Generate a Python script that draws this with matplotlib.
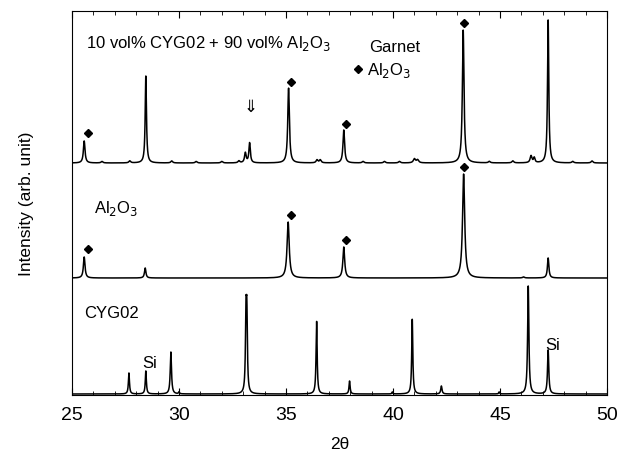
import numpy as np
import matplotlib
matplotlib.use('Agg')
import matplotlib.pyplot as plt

plt.rcParams['font.family'] = ['Liberation Sans', 'DejaVu Sans']

# peak lists: position (2theta), height, FWHM
mix_pos = [25.57, 26.40, 27.70, 28.45, 29.66, 30.80, 32.00, 32.80, 33.10, 33.30, 35.12, 36.45, 36.60,
           37.70, 38.60, 39.60, 40.30, 41.00, 41.15, 43.28, 44.50, 45.60, 46.45, 46.60, 47.25, 48.40, 49.30]
mix_h   = [22, 1.5, 2, 87, 2, 1.5, 1.5, 2, 10, 20, 75, 3, 3,
           33, 1.5, 1.5, 1.5, 4, 3, 133, 1.5, 2, 7, 5, 143, 1.5, 2]
mix_w   = [0.09, 0.10, 0.10, 0.07, 0.10, 0.10, 0.10, 0.10, 0.09, 0.08, 0.09, 0.10, 0.10,
           0.09, 0.10, 0.10, 0.10, 0.12, 0.12, 0.09, 0.10, 0.10, 0.10, 0.08, 0.07, 0.10, 0.10]

alo_pos = [25.57, 28.42, 35.10, 37.70, 43.30, 46.10, 47.25]
alo_h   = [21, 10, 56, 31, 104, 1, 20]
alo_w   = [0.09, 0.08, 0.12, 0.10, 0.12, 0.10, 0.08]

cyg_pos = [27.66, 28.45, 29.62, 30.00, 33.13, 33.17, 36.43, 37.97, 39.97, 40.90, 42.26, 44.96, 46.32, 47.25]
cyg_h   = [21, 23, 42, 2, 71, 71, 73, 13, 2, 75, 8, 2, 108, 44]
cyg_w   = [0.06, 0.06, 0.07, 0.05, 0.06, 0.06, 0.06, 0.06, 0.05, 0.06, 0.07, 0.05, 0.07, 0.07]

offsets = [232, 117, 1]

# Al2O3 diamond marks
mix_dia_x = [25.75, 35.25, 37.82, 43.32]
mix_dia_y = [262, 313, 271, 372]
alo_dia_x = [25.75, 35.25, 37.82, 43.32]
alo_dia_y = [146, 180, 155, 228]


def profile(x, pos, h, w):
    y = np.zeros_like(x)
    for p, a, g in zip(pos, h, w):
        hw = g / 2
        y += a * (hw ** 2 / ((x - p) ** 2 + hw ** 2))
    return y


x = np.linspace(25, 50, 5000)

fig = plt.figure(figsize=(6.18, 4.56), dpi=100)
ax = fig.add_axes([72 / 618, 1 - 396 / 456, 535 / 618, 384 / 456])

for (pos, h, w), off in zip([(mix_pos, mix_h, mix_w), (alo_pos, alo_h, alo_w), (cyg_pos, cyg_h, cyg_w)], offsets):
    ax.plot(x, off + profile(x, pos, h, w), color='black', lw=1.1)

ax.plot(mix_dia_x, mix_dia_y, 'kD', ms=4)
ax.plot(alo_dia_x, alo_dia_y, 'kD', ms=4)

ax.set_xlim(25, 50)
ax.set_ylim(0, 384)
ax.set_xticks([25, 30, 35, 40, 45, 50])
ax.set_xticks(np.arange(25, 51, 1), minor=True)
ax.set_yticks([])
ax.tick_params(axis='x', which='both', direction='in', top=True, labelsize=14, pad=8)
ax.tick_params(axis='x', which='major', length=5)
ax.tick_params(axis='x', which='minor', length=3)

ax.set_xlabel('2θ', fontsize=12.5, labelpad=9)
ax.set_ylabel('Intensity (arb. unit)', fontsize=12.5, labelpad=27)

fs = 12
ax.text(25.65, 353, '10 vol% CYG02 + 90 vol% Al$_2$O$_3$', fontsize=fs, va='center')
ax.text(38.9, 349, 'Garnet', fontsize=fs, va='center')
ax.plot([38.36], [326], 'kD', ms=4)
ax.text(38.8, 326, 'Al$_2$O$_3$', fontsize=fs, va='center')
ax.text(33.36, 289, '⇓', fontsize=12, ha='center', va='center', family=['DejaVu Sans'])
ax.text(26.05, 188, 'Al$_2$O$_3$', fontsize=fs, va='center')
ax.text(25.56, 83, 'CYG02', fontsize=fs, va='center')
ax.text(28.65, 33, 'Si', fontsize=fs, ha='center', va='center')
ax.text(47.45, 50, 'Si', fontsize=fs, ha='center', va='center')

fig.savefig('out.png', dpi=100)
